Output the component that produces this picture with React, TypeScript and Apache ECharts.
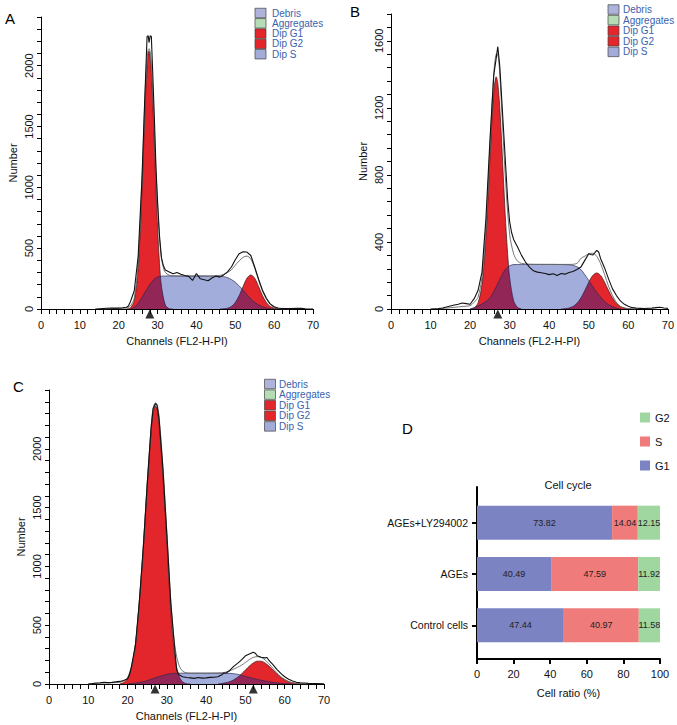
import React, { useEffect, useRef } from 'react';
import * as echarts from 'echarts';

type P = [number, number];

// ---------- Panel A (channel, count) ----------
const aG1: P[] = [[22,0],[23,9],[24,69],[25,330],[26,984],[26.5,1420],[27,1825],[27.5,2075],[27.8,2120],[28,2105],[28.5,1890],[29,1509],[29.5,1070],[30,672],[30.5,375],[31,186],[32,32],[33,3],[34,0]];
const aG2: P[] = [[46,0],[47,2],[48,7],[49,21],[50,54],[51,110],[52,185],[53,253],[54,280],[55,253],[56,185],[57,110],[58,54],[59,21],[60,7],[61,2],[62,0]];
const aS: P[] = [[23,0],[24,15],[25,45],[26,95],[27,150],[28,200],[29,240],[30,262],[31,270],[35,272],[40,272],[45,270],[47,266],[48,258],[49,242],[50,220],[51,190],[52,155],[53,118],[54,82],[55,55],[56,34],[57,19],[58,9],[59,3],[60,0]];
const aModel: P[] = [[16,0],[18,3],[20,5],[22,8],[23,25],[24,90],[25,380],[26,1070],[26.5,1500],[27,1920],[27.5,2120],[27.8,2140],[28.2,2090],[28.5,1950],[29,1620],[29.5,1200],[30,860],[30.5,580],[31,420],[31.5,340],[32,300],[33,278],[34,272],[36,270],[40,270],[44,271],[46,276],[47,284],[48,300],[49,322],[50,360],[51,395],[52,425],[53,435],[54,410],[55,335],[56,235],[57,148],[58,82],[59,38],[60,14],[61,5],[62,1],[64,0]];
const aData: P[] = [[14,0],[16,4],[17,6],[18,8],[20,7],[21,10],[22,14],[22.5,25],[23,60],[24,150],[25,430],[26,1080],[26.5,1550],[27,1980],[27.3,2240],[27.6,2245],[27.8,2190],[28.1,2245],[28.4,2240],[28.8,1900],[29.2,1550],[29.6,1150],[30,880],[30.5,600],[31,420],[31.5,355],[32,320],[33,305],[34,290],[35,300],[36,285],[37,275],[38,268],[39,235],[40,292],[41,248],[42,240],[43,232],[44,255],[45,272],[46,262],[47,280],[48,305],[49,345],[50,405],[51,455],[52,470],[53,468],[54,440],[55,345],[56,245],[57,155],[58,88],[59,42],[60,18],[61,8],[62,4],[64,3],[66,6],[67,5],[68,2],[70,0]];
const aMarks: number[] = [28];

// ---------- Panel B ----------
const bG1: P[] = [[20,0],[21,6],[22,36],[23,147],[24,430],[25,889],[25.5,1120],[26,1302],[26.6,1385],[27,1347],[27.5,1200],[28,987],[28.5,740],[29,511],[29.5,325],[30,187],[31,49],[32,9],[33,0]];
const bG2: P[] = [[43,0],[44,2],[45,6],[46,15],[47,34],[48,66],[49,110],[50,160],[51,200],[52,215],[53,200],[54,160],[55,110],[56,66],[57,34],[58,15],[59,6],[60,2],[61,0]];
const bS: P[] = [[20,0],[21,8],[22,18],[23,30],[24,45],[25,65],[26,105],[27,150],[28,200],[29,238],[30,258],[31,265],[35,266],[40,266],[45,264],[46,260],[47,252],[48,236],[49,205],[50,170],[51,133],[52,100],[53,70],[54,45],[55,26],[56,14],[57,5],[58,0]];
const bModel: P[] = [[12,0],[14,5],[16,10],[18,15],[20,20],[21,40],[22,70],[23,190],[24,490],[25,960],[26,1410],[26.7,1525],[27.2,1495],[28,1187],[29,749],[30,445],[31,330],[32,285],[33,272],[35,267],[40,266],[45,266],[47,272],[48,302],[49,315],[50,330],[51,333],[52,315],[53,270],[54,205],[55,136],[56,80],[57,39],[58,15],[59,6],[60,2],[62,0]];
const bData: P[] = [[10,0],[12,2],[13,6],[14,12],[15,18],[16,24],[17,28],[18,36],[19,32],[20,28],[20.5,45],[21,60],[22,110],[23,220],[24,540],[25,1000],[26,1400],[26.5,1480],[27,1565],[27.5,1450],[28,1250],[28.5,1050],[29,850],[29.5,650],[30,520],[30.5,455],[31,415],[32,370],[33,320],[34,280],[35,250],[36,228],[37,220],[38,216],[39,212],[40,205],[41,210],[42,200],[43,212],[44,208],[45,218],[46,224],[47,236],[48,250],[49,290],[50,330],[50.5,325],[51,322],[51.5,335],[52,350],[52.5,340],[53,300],[54,245],[55,180],[56,120],[57,80],[58,48],[59,28],[60,16],[61,8],[62,5],[63,4],[64,3],[66,5],[67,8],[68,10],[69,6],[70,4]];
const bMarks: number[] = [27];

// ---------- Panel C ----------
const cG1: P[] = [[18,0],[19,12],[20,45],[21,140],[22,330],[23,700],[24,1150],[25,1680],[26,2150],[26.5,2300],[27.1,2365],[27.5,2340],[28,2216],[29,1772],[30,1207],[31,620],[32,240],[33,75],[34,18],[35,3],[36,0]];
const cG2: P[] = [[43,0],[44,5],[45,10],[46,20],[47,35],[48,57],[49,86],[50,119],[51,152],[52,179],[53,194],[54,194],[55,179],[56,152],[57,119],[58,86],[59,57],[60,35],[61,20],[62,10],[63,5],[64,2],[65,0]];
const cS: P[] = [[20,0],[21,4],[22,8],[23,12],[24,20],[25,28],[26,40],[27,52],[28,63],[29,72],[30,82],[31,88],[32,91],[35,92],[40,92],[45,91],[47,88],[48,82],[49,74],[50,64],[51,56],[52,47],[53,39],[54,32],[55,26],[56,20],[57,14],[58,10],[59,6],[60,4],[61,2],[62,0]];
const cModel: P[] = [[10,0],[12,4],[14,8],[16,10],[18,14],[19,25],[20,55],[21,150],[22,340],[23,712],[24,1170],[25,1708],[26,2190],[26.5,2345],[27.1,2390],[27.5,2380],[28,2279],[29,1844],[30,1289],[31,708],[32,331],[33,166],[34,110],[35,95],[36,92],[40,92],[44,95],[45,101],[46,112],[47,126],[48,142],[49,160],[50,183],[51,208],[52,226],[53,233],[54,226],[55,205],[56,172],[57,133],[58,96],[59,63],[60,39],[61,22],[62,10],[63,5],[64,2],[66,0]];
const cData: P[] = [[10,0],[11,3],[12,8],[13,10],[14,15],[15,12],[16,14],[17,18],[18,22],[19,30],[20,45],[20.5,80],[21,150],[22,330],[23,700],[24,1160],[25,1700],[26,2180],[26.5,2340],[27.1,2385],[27.5,2370],[28,2260],[29,1830],[30,1270],[31,690],[32,300],[32.5,120],[33,80],[34,62],[35,55],[36,52],[37,48],[38,55],[39,50],[40,52],[41,56],[42,58],[43,62],[44,78],[44.5,95],[45,92],[46,115],[47,150],[48,175],[49,205],[50,240],[51,255],[52,270],[52.5,262],[53,240],[54,228],[55,222],[55.5,225],[56,200],[57,165],[58,125],[59,90],[60,62],[61,40],[62,26],[63,14],[64,10],[65,8],[66,5],[68,3],[70,1]];
const cMarks: number[] = [27, 52];

// ---------- Legends / panel D ----------
const histLegendLabels = ['Debris', 'Aggregates', 'Dip G1', 'Dip G2', 'Dip S'];
const histLegendFills = ['#aeb3dc', '#b5dcb5', '#e3262b', '#e3262b', '#a3abd8'];

const cycleCategories = ['Control cells', 'AGEs', 'AGEs+LY294002'];
const g1Values = [47.44, 40.49, 73.82];
const sValues = [40.97, 47.59, 14.04];
const g2Values = [11.58, 11.92, 12.15];

const FONT = '"Liberation Sans", Arial, Helvetica, sans-serif';

const panels = [
  { grid: { left: 41, top: 17, width: 272, height: 292 }, yMax: 2400, yStep: 100, labelStep: 500,
    g1: aG1, g2: aG2, s: aS, model: aModel, data: aData, marks: aMarks,
    legend: { sw: 255, tx: 272, y0: 13, pitch: 10.3 }, letter: { t: 'A', x: 5, y: 18 } },
  { grid: { left: 391, top: 14, width: 277, height: 295 }, yMax: 1760, yStep: 80, labelStep: 400,
    g1: bG1, g2: bG2, s: bS, model: bModel, data: bData, marks: bMarks,
    legend: { sw: 608, tx: 623, y0: 9.5, pitch: 10.6 }, letter: { t: 'B', x: 350, y: 11.7 } },
  { grid: { left: 49, top: 390, width: 275, height: 294 }, yMax: 2500, yStep: 100, labelStep: 500,
    g1: cG1, g2: cG2, s: cS, model: cModel, data: cData, marks: cMarks,
    legend: { sw: 264.5, tx: 279, y0: 384, pitch: 10.6 }, letter: { t: 'C', x: 13, y: 386.7 } },
];

function buildOption() {
  const grid: any[] = [];
  const xAxis: any[] = [];
  const yAxis: any[] = [];
  const series: any[] = [];
  const graphic: any[] = [];

  panels.forEach((p, i) => {
    grid.push({ ...p.grid, containLabel: false });
    xAxis.push({
      gridIndex: i, type: 'value', min: 0, max: 70, interval: 2,
      axisLine: { show: true, onZero: false, lineStyle: { color: '#000', width: 1 } },
      axisTick: { show: true, length: 5, lineStyle: { color: '#000', width: 1 } },
      axisLabel: { formatter: (v: number) => (v % 10 === 0 ? String(v) : ''), fontSize: 11, color: '#111', margin: 10, fontFamily: FONT },
      splitLine: { show: false },
      name: 'Channels (FL2-H-PI)', nameLocation: 'middle', nameGap: 26,
      nameTextStyle: { fontSize: 11, color: '#111', fontFamily: FONT },
    });
    yAxis.push({
      gridIndex: i, type: 'value', min: 0, max: p.yMax, interval: p.yStep,
      axisLine: { show: true, onZero: false, lineStyle: { color: '#000', width: 1 } },
      axisTick: { show: true, length: 4, lineStyle: { color: '#000', width: 1 } },
      axisLabel: { rotate: 90, formatter: (v: number) => (v % p.labelStep === 0 && v < p.yMax ? String(v) : ''), fontSize: 11, color: '#111', margin: 7, fontFamily: FONT },
      splitLine: { show: false },
      name: 'Number', nameLocation: 'middle', nameGap: 23,
      nameTextStyle: { fontSize: 11, color: '#111', fontFamily: FONT },
    });
    const common = { type: 'line', xAxisIndex: i, yAxisIndex: i, symbol: 'none', silent: true };
    series.push({ ...common, name: 'Dip G1', data: p.g1, smooth: 0.3, z: 2,
      lineStyle: { color: '#3a1515', width: 0.7 }, areaStyle: { color: '#e3262b', opacity: 1 } });
    series.push({ ...common, name: 'Dip G2', data: p.g2, smooth: 0.3, z: 2,
      lineStyle: { color: '#3a1515', width: 0.7 }, areaStyle: { color: '#e3262b', opacity: 1 } });
    series.push({ ...common, name: 'Dip S', data: p.s, smooth: 0.3, z: 3,
      lineStyle: { color: '#2a2a55', width: 0.7 }, areaStyle: { color: 'rgba(12,39,160,0.38)', opacity: 1 } });
    series.push({ ...common, name: 'Model', data: p.model, smooth: 0.3, z: 4,
      lineStyle: { color: '#666', width: 0.9 } });
    series.push({ ...common, name: 'Data', data: p.data, smooth: false, z: 5,
      lineStyle: { color: '#111', width: 1.1 } });
    series.push({ type: 'scatter', name: 'Marker', xAxisIndex: i, yAxisIndex: i, clip: false, silent: true,
      data: p.marks.map((m) => [m, 0]), symbol: 'triangle', symbolSize: 9, symbolOffset: [0, 5],
      itemStyle: { color: '#000' }, z: 6 });

    histLegendLabels.forEach((lab, k) => {
      const cy = p.legend.y0 + k * p.legend.pitch;
      graphic.push({ type: 'rect', shape: { x: p.legend.sw, y: cy - 4.75, width: 11, height: 9.5 },
        style: { fill: histLegendFills[k], stroke: '#444', lineWidth: 0.7 } });
      graphic.push({ type: 'text', x: p.legend.tx, y: cy,
        style: { text: lab, fill: '#3a62ad', fontSize: 10, fontFamily: FONT, verticalAlign: 'middle', align: 'left' } });
    });
    graphic.push({ type: 'text', x: p.letter.x, y: p.letter.y,
      style: { text: p.letter.t, fill: '#000', fontSize: 15, fontFamily: FONT, verticalAlign: 'middle', align: 'left' } });
  });

  // Panel D: bars grid (3) and frame grid (4)
  grid.push({ left: 477, top: 497, width: 183, height: 154 });
  grid.push({ left: 477, top: 487, width: 183, height: 172 });
  xAxis.push({ gridIndex: 3, type: 'value', min: 0, max: 100, show: false });
  yAxis.push({
    gridIndex: 3, type: 'category', data: cycleCategories,
    axisLine: { show: false },
    axisTick: { show: true, alignWithLabel: true, length: 5, lineStyle: { color: '#000', width: 2 } },
    axisLabel: { fontSize: 10.5, color: '#111', margin: 9, fontFamily: FONT },
    splitLine: { show: false },
  });
  xAxis.push({
    gridIndex: 4, type: 'value', min: 0, max: 100, interval: 20,
    axisLine: { show: true, onZero: false, lineStyle: { color: '#000', width: 2 } },
    axisTick: { show: true, length: 5, lineStyle: { color: '#000', width: 2 } },
    axisLabel: { fontSize: 11, color: '#111', margin: 9, fontFamily: FONT },
    splitLine: { show: false },
    name: 'Cell ratio (%)', nameLocation: 'middle', nameGap: 28,
    nameTextStyle: { fontSize: 11, color: '#111', fontFamily: FONT },
  });
  yAxis.push({
    gridIndex: 4, type: 'value', min: 0, max: 1,
    axisLine: { show: true, onZero: false, lineStyle: { color: '#000', width: 2 } },
    axisTick: { show: false }, axisLabel: { show: false }, splitLine: { show: false },
  });

  const barLabel = { show: true, position: 'inside', fontSize: 9, color: '#222', fontFamily: FONT,
    formatter: (pp: any) => Number(pp.value).toFixed(2) };
  series.push({ type: 'bar', name: 'G1', stack: 'cc', xAxisIndex: 3, yAxisIndex: 3, data: g1Values,
    barWidth: 34, itemStyle: { color: '#7b83c3' }, label: barLabel });
  series.push({ type: 'bar', name: 'S', stack: 'cc', xAxisIndex: 3, yAxisIndex: 3, data: sValues,
    barWidth: 34, itemStyle: { color: '#ef7b7b' }, label: barLabel });
  series.push({ type: 'bar', name: 'G2', stack: 'cc', xAxisIndex: 3, yAxisIndex: 3, data: g2Values,
    barWidth: 34, itemStyle: { color: '#a0d6a0' }, label: barLabel });

  graphic.push({ type: 'text', x: 568, y: 485,
    style: { text: 'Cell cycle', fill: '#111', fontSize: 11, fontFamily: FONT, align: 'center', verticalAlign: 'middle' } });
  graphic.push({ type: 'text', x: 402, y: 428.5,
    style: { text: 'D', fill: '#000', fontSize: 15, fontFamily: FONT, align: 'left', verticalAlign: 'middle' } });

  return {
    animation: false,
    backgroundColor: '#fff',
    textStyle: { fontFamily: FONT },
    grid, xAxis, yAxis, series, graphic,
    legend: {
      data: ['G2', 'S', 'G1'], orient: 'vertical', left: 635, top: 407,
      itemWidth: 10, itemHeight: 10, itemGap: 13, icon: 'rect',
      textStyle: { fontSize: 11, color: '#111', fontFamily: FONT }, selectedMode: false,
    },
  };
}

export default function App() {
  const ref = useRef<HTMLDivElement>(null);
  useEffect(() => {
    if (!ref.current) return;
    const chart = echarts.init(ref.current, undefined, { renderer: 'svg' });
    chart.setOption(buildOption() as any);
    return () => chart.dispose();
  }, []);
  return <div ref={ref} style={{ position: 'absolute', left: 0, top: 0, width: 677, height: 725 }} />;
}
